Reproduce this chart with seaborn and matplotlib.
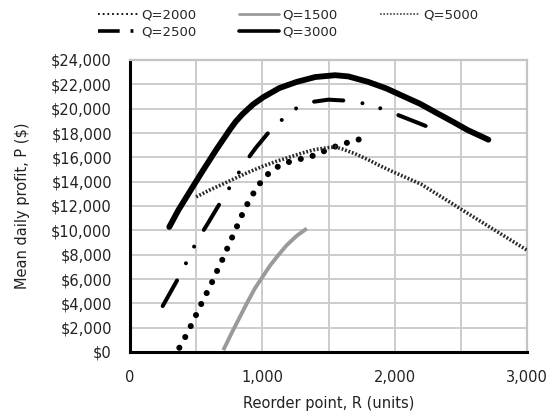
import matplotlib
matplotlib.use("Agg")
import matplotlib.pyplot as plt
from matplotlib.lines import Line2D
from matplotlib.ticker import MultipleLocator, FuncFormatter
import seaborn as sns
import pandas as pd

# ---- data ----
r_q2000 = [373, 416, 459, 501, 544, 587, 630, 668, 711, 748, 789, 826, 869, 915,
           965, 1023, 1098, 1184, 1280, 1373, 1557, 1650, 1744]
p_q2000 = [350, 1200, 2130, 3090, 4080, 5010, 5960, 6920, 7880, 8860, 9820, 10780,
           11800, 12720, 13620, 14440, 15130, 15570, 15840, 16090, 16910, 17230, 17510]

r_q1500 = [705, 770, 831, 890, 945, 1000, 1058, 1120, 1184, 1260, 1336]
p_q1500 = [150, 1600, 2900, 4150, 5250, 6150, 7100, 7950, 8780, 9550, 10150]

r_q5000 = [500, 600, 700, 800, 900, 1000, 1100, 1200, 1300, 1400, 1500, 1550, 1600,
           1700, 1800, 1900, 2000, 2100, 2200, 2400, 2600, 2800, 3000]
p_q5000 = [12750, 13300, 13800, 14300, 14800, 15250, 15650, 16000, 16350, 16650, 16800,
           16850, 16700, 16300, 15800, 15250, 14750, 14270, 13790, 12430, 11070, 9720, 8370]

r_q2500 = [247, 378, 441, 504, 580, 693, 869, 952, 1040, 1129, 1234, 1368, 1499, 1650,
           1776, 1910, 2046, 2172, 2255]
p_q2500 = [3775, 6320, 7690, 9110, 10420, 12470, 15570, 16800, 17950, 18900, 19920,
           20540, 20740, 20650, 20410, 19970, 19390, 18850, 18490]

r_q3000 = [297, 365, 450, 550, 650, 756, 800, 850, 930, 1008, 1130, 1260, 1400, 1550,
           1650, 1800, 1940, 2050, 2192, 2300, 2444, 2550, 2708]
p_q3000 = [10280, 11650, 13150, 14900, 16600, 18300, 18950, 19550, 20350, 20950, 21700,
           22200, 22600, 22750, 22650, 22200, 21650, 21100, 20400, 19750, 18900, 18250, 17450]

series_labels = ["Q=2000", "Q=1500", "Q=5000", "Q=2500", "Q=3000"]
x_ticks = [0, 1000, 2000, 3000]
y_ticks = list(range(0, 24001, 2000))

# ---- style ----
sns.set_style("white")
plt.rcParams["font.family"] = ["DejaVu Sans"]

fig = plt.figure(figsize=(5.49, 4.16), dpi=100)
ax = fig.add_axes([130 / 549, 1 - 352 / 416, 397 / 549, 292 / 416])

common = dict(ax=ax, errorbar=None, legend=False)

d = pd.DataFrame({"R": r_q5000, "P": p_q5000})
sns.lineplot(data=d, x="R", y="P", color="#2a2a2a", lw=2.6,
             linestyle=(0, (0.5, 0.5)), zorder=4, **common)

d = pd.DataFrame({"R": r_q2000, "P": p_q2000})
sns.lineplot(data=d, x="R", y="P", color="black", lw=4.4,
             linestyle=(0, (0.001, 2.0)), dash_capstyle="round", zorder=3, **common)

d = pd.DataFrame({"R": r_q1500, "P": p_q1500})
sns.lineplot(data=d, x="R", y="P", color="#9a9a9a", lw=2.8,
             solid_capstyle="butt", zorder=3, **common)

d = pd.DataFrame({"R": r_q2500, "P": p_q2500})
sns.lineplot(data=d, x="R", y="P", color="black", lw=2.9,
             linestyle=(0, (7.3, 4.8, 0.001, 4.6, 0.001, 4.8)),
             dash_capstyle="round", zorder=3, **common)

d = pd.DataFrame({"R": r_q3000, "P": p_q3000})
sns.lineplot(data=d, x="R", y="P", color="black", lw=4.2,
             solid_capstyle="round", solid_joinstyle="round", zorder=3, **common)

# ---- axes ----
ax.set_xlim(0, 3000)
ax.set_ylim(0, 24000)
ax.set_xticks(x_ticks)
ax.xaxis.set_minor_locator(MultipleLocator(500))
ax.set_yticks(y_ticks)
ax.xaxis.set_major_formatter(FuncFormatter(lambda v, p: f"{v:,.0f}"))
ax.yaxis.set_major_formatter(FuncFormatter(lambda v, p: f"${v:,.0f}"))

ax.grid(True, which="both", color="#cccccc", lw=1.4, zorder=0)
ax.set_axisbelow(True)
for s in ["top", "right"]:
    ax.spines[s].set_color("#c4c4c4")
    ax.spines[s].set_linewidth(1.6)
for s in ["left", "bottom"]:
    ax.spines[s].set_color("black")
    ax.spines[s].set_linewidth(2.2)

ax.tick_params(axis="x", which="major", direction="out", length=3, width=1.5,
               color="black", pad=10, labelsize=10.5, labelcolor="#222222")
ax.tick_params(axis="x", which="minor", length=0)
ax.tick_params(axis="y", length=0, pad=13, labelsize=10.5, labelcolor="#222222")

ax.set_xlabel("Reorder point, R (units)", fontsize=10.5, color="#222222", labelpad=8)
ax.set_ylabel("Mean daily profit, P ($)", fontsize=10.5, color="#222222", labelpad=15)

# ---- legend (styled like the original's handles) ----
h2000 = Line2D([], [], color="black", lw=1.3, linestyle=(0, (1, 1.6)))
h1500 = Line2D([], [], color="#9a9a9a", lw=2.0)
h5000 = Line2D([], [], color="#444444", lw=1.2, linestyle=(0, (1, 1)))
h2500 = Line2D([], [], color="black", lw=2.6, linestyle=(0, (6, 3, 0.8, 6)))
h3000 = Line2D([], [], color="black", lw=2.6)
handles = [h2000, h2500, h1500, h3000, h5000]
labels = [series_labels[0], series_labels[3], series_labels[1], series_labels[4], series_labels[2]]
fig.legend(handles, labels, loc="upper left", bbox_to_anchor=(98 / 549, 1 - 9 / 416),
           ncol=3, frameon=False, fontsize=9.5, handlelength=3.0, handletextpad=0.3,
           columnspacing=3.2, labelspacing=0.25, borderpad=0, borderaxespad=0)

fig.savefig("out.png", dpi=100, facecolor="white")
